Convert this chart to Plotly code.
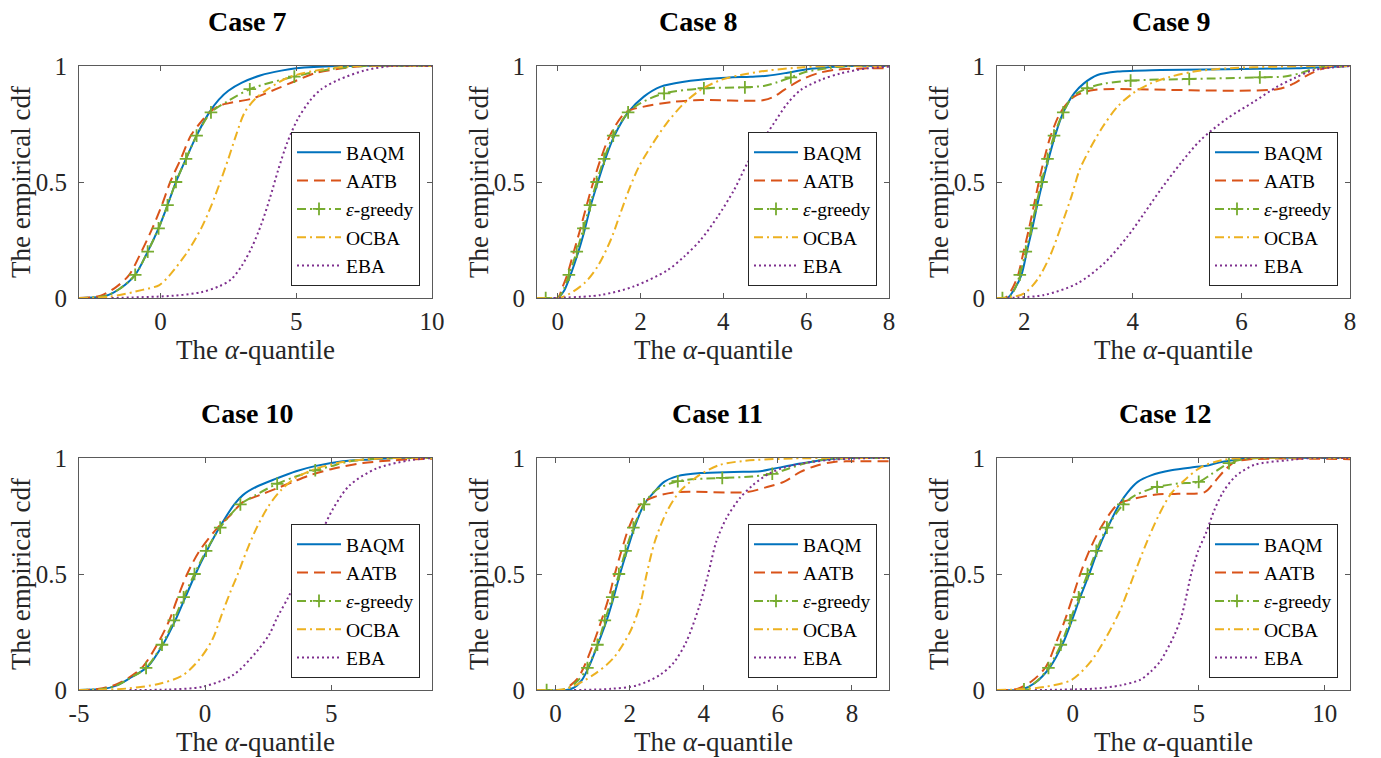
import plotly.graph_objects as go

W, H = 1381, 758

SERIES = ["BAQM", "AATB", "<i>ε</i>-greedy", "OCBA", "EBA"]
COLORS = ["#0072BD", "#D95319", "#77AC30", "#EDB120", "#7E2F8E"]
DASHES = ["solid", "11px,6px", "9px,4px,2px,4px", "9px,4px,2px,4px", "2px,3px"]
TITLES = ["Case 7", "Case 8", "Case 9", "Case 10", "Case 11", "Case 12"]
X_RANGES = [[-3, 10], [-0.5, 8], [1.5, 8], [-5, 9], [-0.5, 9], [-3, 11]]
X_TICKS = [[0, 5, 10], [0, 2, 4, 6, 8], [2, 4, 6, 8], [-5, 0, 5], [0, 2, 4, 6, 8], [0, 5, 10]]
Y_TICKS = [0, 0.5, 1]
Y_TICK_LABELS = ["0", "0.5", "1"]

# ---------------- Case 7 ----------------
c7_baqm_x = [-3, -2, -1.5, -0.93, -0.47, -0.07, 0.26, 0.57, 0.94, 1.33, 1.8, 2.15, 2.5, 3.0, 3.7, 4.45, 5.0, 6.5, 10]
c7_baqm_y = [0, 0.01, 0.04, 0.1, 0.2, 0.3, 0.4, 0.5, 0.6, 0.7, 0.8, 0.855, 0.893, 0.928, 0.96, 0.98, 0.99, 1, 1]
c7_aatb_x = [-3, -2.2, -1.6, -1.15, -0.7, -0.3, 0.05, 0.36, 0.75, 1.12, 1.5, 1.8, 2.2, 2.53, 3.39, 4.25, 4.86, 5.72, 6.7, 7.5, 10]
c7_aatb_y = [0, 0.01, 0.05, 0.1, 0.2, 0.3, 0.4, 0.5, 0.6, 0.7, 0.76, 0.8, 0.83, 0.84, 0.86, 0.9, 0.93, 0.97, 0.99, 1, 1]
c7_eps_x = [-3, -2, -1.5, -0.93, -0.47, -0.07, 0.26, 0.57, 0.94, 1.33, 1.86, 2.5, 3.29, 4.1, 4.93, 5.7, 6.5, 7.5, 10]
c7_eps_y = [0, 0.01, 0.04, 0.1, 0.2, 0.3, 0.4, 0.5, 0.6, 0.7, 0.8, 0.85, 0.9, 0.93, 0.954, 0.975, 0.99, 1, 1]
c7_eps_mx = [-0.93, -0.47, -0.07, 0.26, 0.57, 0.94, 1.33, 1.86, 3.29, 4.93]
c7_eps_my = [0.1, 0.2, 0.3, 0.4, 0.5, 0.6, 0.7, 0.8, 0.9, 0.954]
c7_ocba_x = [-3, -1.9, -0.66, -0.04, 0.35, 1.0, 1.5, 1.88, 2.2, 2.5, 2.78, 3.1, 3.5, 3.95, 4.7, 5.7, 7.07, 10]
c7_ocba_y = [0, 0.005, 0.035, 0.056, 0.1, 0.2, 0.3, 0.4, 0.5, 0.6, 0.7, 0.8, 0.86, 0.9, 0.95, 0.98, 1, 1]
c7_eba_x = [-1.8, 0.5, 1.5, 2.15, 2.6, 3.0, 3.37, 3.72, 4.03, 4.33, 4.67, 5.05, 5.5, 5.92, 6.55, 7.5, 8.5, 10]
c7_eba_y = [0, 0.01, 0.025, 0.05, 0.08, 0.14, 0.22, 0.32, 0.43, 0.55, 0.67, 0.77, 0.85, 0.9, 0.94, 0.98, 1, 1]

# ---------------- Case 8 ----------------
c8_baqm_x = [-0.5, 0.0, 0.15, 0.31, 0.5, 0.66, 0.8, 0.97, 1.15, 1.37, 1.7, 2.08, 2.49, 3.05, 3.86, 4.66, 5.06, 5.55, 6.03, 6.5, 7.0, 8]
c8_baqm_y = [0, 0, 0.03, 0.1, 0.2, 0.3, 0.4, 0.5, 0.6, 0.7, 0.8, 0.868, 0.911, 0.932, 0.947, 0.954, 0.958, 0.971, 0.986, 0.994, 1, 1]
c8_aatb_x = [-0.5, 0.0, 0.1, 0.23, 0.39, 0.55, 0.7, 0.86, 1.04, 1.26, 1.64, 2.08, 2.81, 3.45, 4.98, 5.22, 5.47, 5.87, 6.27, 6.67, 7.48, 8]
c8_aatb_y = [0, 0, 0.04, 0.1, 0.2, 0.3, 0.4, 0.5, 0.6, 0.7, 0.8, 0.825, 0.846, 0.853, 0.853, 0.868, 0.897, 0.94, 0.968, 0.983, 0.99, 0.99]
c8_eps_x = [-0.5, -0.29, 0.0, 0.15, 0.27, 0.46, 0.62, 0.78, 0.94, 1.12, 1.34, 1.7, 2.0, 2.57, 3.53, 4.52, 5.0, 5.3, 5.63, 6.0, 6.5, 7.0, 8]
c8_eps_y = [0, 0, 0.0, 0.04, 0.1, 0.2, 0.3, 0.4, 0.5, 0.6, 0.7, 0.8, 0.84, 0.882, 0.904, 0.908, 0.915, 0.93, 0.951, 0.975, 0.99, 1, 1]
c8_eps_mx = [-0.29, 0.27, 0.46, 0.62, 0.78, 0.94, 1.12, 1.34, 1.7, 2.57, 3.53, 4.52, 5.63]
c8_eps_my = [0, 0.1, 0.2, 0.3, 0.4, 0.5, 0.6, 0.7, 0.8, 0.882, 0.904, 0.908, 0.951]
c8_ocba_x = [-0.5, 0.0, 0.23, 0.64, 0.96, 1.28, 1.5, 1.72, 1.96, 2.3, 2.63, 3.05, 3.45, 3.94, 4.42, 5.06, 5.87, 6.67, 8]
c8_ocba_y = [0, 0, 0.013, 0.063, 0.135, 0.25, 0.358, 0.466, 0.566, 0.667, 0.753, 0.839, 0.897, 0.94, 0.961, 0.98, 0.994, 1, 1]
c8_eba_x = [-0.1, 1.04, 1.84, 2.65, 3.05, 3.45, 3.86, 4.26, 4.58, 4.9, 5.22, 5.55, 5.87, 6.35, 6.83, 7.48, 8]
c8_eba_y = [0, 0.013, 0.05, 0.12, 0.178, 0.25, 0.35, 0.466, 0.58, 0.667, 0.753, 0.839, 0.897, 0.94, 0.968, 0.99, 0.997]

# ---------------- Case 9 ----------------
c9_baqm_x = [1.5, 1.69, 1.8, 1.95, 2.05, 2.15, 2.24, 2.34, 2.45, 2.57, 2.72, 2.92, 3.1, 3.35, 3.72, 4.51, 7.0, 7.5, 8]
c9_baqm_y = [0, 0, 0.03, 0.1, 0.2, 0.3, 0.4, 0.5, 0.6, 0.7, 0.8, 0.882, 0.925, 0.961, 0.976, 0.983, 0.99, 0.995, 1]
c9_aatb_x = [1.5, 1.65, 1.78, 1.89, 1.99, 2.09, 2.18, 2.27, 2.37, 2.49, 2.67, 2.92, 3.22, 3.47, 6.66, 6.97, 7.22, 7.52, 8]
c9_aatb_y = [0, 0, 0.04, 0.1, 0.2, 0.3, 0.4, 0.5, 0.6, 0.7, 0.8, 0.868, 0.894, 0.9, 0.9, 0.925, 0.961, 0.99, 1]
c9_eps_x = [1.5, 1.6, 1.75, 1.83, 1.92, 2.03, 2.13, 2.22, 2.32, 2.43, 2.55, 2.72, 2.9, 3.16, 3.5, 3.96, 5.04, 6.34, 6.8, 7.1, 7.4, 8]
c9_eps_y = [0, 0, 0.01, 0.04, 0.1, 0.2, 0.3, 0.4, 0.5, 0.6, 0.7, 0.8, 0.87, 0.904, 0.925, 0.937, 0.944, 0.951, 0.955, 0.97, 0.993, 1]
c9_eps_mx = [1.6, 1.92, 2.03, 2.13, 2.22, 2.32, 2.43, 2.55, 2.72, 3.16, 3.96, 5.04, 6.34]
c9_eps_my = [0, 0.1, 0.2, 0.3, 0.4, 0.5, 0.6, 0.7, 0.8, 0.904, 0.937, 0.944, 0.951]
c9_ocba_x = [1.5, 1.69, 2.0, 2.24, 2.47, 2.7, 2.87, 3.02, 3.2, 3.45, 3.72, 4.0, 4.33, 4.7, 5.13, 5.74, 6.66, 7.4, 8]
c9_ocba_y = [0, 0, 0.02, 0.078, 0.178, 0.322, 0.437, 0.552, 0.638, 0.739, 0.825, 0.882, 0.925, 0.954, 0.976, 0.99, 0.997, 1, 1]
c9_eba_x = [1.69, 2.37, 2.98, 3.47, 3.9, 4.21, 4.51, 4.88, 5.25, 5.74, 6.23, 6.66, 6.97, 7.34, 8]
c9_eba_y = [0, 0.013, 0.063, 0.149, 0.264, 0.365, 0.466, 0.58, 0.681, 0.774, 0.846, 0.911, 0.947, 0.983, 1]

# ---------------- Case 10 ----------------
c10_baqm_x = [-5, -4, -3.5, -3, -2.28, -1.65, -1.18, -0.78, -0.38, 0.07, 0.57, 1.16, 1.5, 2.02, 2.82, 3.61, 4.4, 5.46, 6.52, 7.5, 9]
c10_baqm_y = [0, 0.005, 0.02, 0.05, 0.1, 0.2, 0.3, 0.4, 0.5, 0.6, 0.7, 0.8, 0.84, 0.875, 0.911, 0.943, 0.966, 0.986, 0.994, 1, 1]
c10_aatb_x = [-5, -4.2, -3.5, -3, -2.47, -1.88, -1.42, -1.08, -0.71, -0.22, 0.5, 0.97, 1.5, 2.16, 2.82, 3.48, 4.14, 5.07, 6.26, 7.45, 9]
c10_aatb_y = [0, 0.005, 0.025, 0.055, 0.1, 0.2, 0.3, 0.4, 0.5, 0.6, 0.7, 0.75, 0.81, 0.84, 0.868, 0.897, 0.925, 0.954, 0.978, 0.99, 0.997]
c10_eps_x = [-5, -4, -3.5, -3, -2.34, -1.71, -1.24, -0.85, -0.42, 0.04, 0.6, 1.4, 2.0, 2.86, 3.6, 4.37, 5.0, 5.7, 6.5, 7.5, 9]
c10_eps_y = [0, 0.005, 0.02, 0.05, 0.095, 0.195, 0.3, 0.4, 0.5, 0.6, 0.7, 0.8, 0.84, 0.889, 0.92, 0.947, 0.965, 0.985, 0.995, 1, 1]
c10_eps_mx = [-2.34, -1.71, -1.24, -0.85, -0.42, 0.04, 0.6, 1.4, 2.86, 4.37]
c10_eps_my = [0.095, 0.195, 0.3, 0.4, 0.5, 0.6, 0.7, 0.8, 0.889, 0.947]
c10_ocba_x = [-5, -3.13, -1.81, -0.89, -0.2, 0.3, 0.65, 1.0, 1.3, 1.65, 2.05, 2.5, 3.0, 3.6, 4.4, 5.46, 6.79, 7.5, 9]
c10_ocba_y = [0, 0.006, 0.027, 0.063, 0.135, 0.22, 0.322, 0.422, 0.5, 0.6, 0.7, 0.79, 0.86, 0.915, 0.954, 0.983, 0.997, 1, 1]
c10_eba_x = [-3, -1.5, -0.1, 1.12, 2.04, 2.55, 2.85, 3.3, 3.75, 4.15, 4.56, 5.07, 5.73, 6.79, 8.1, 9]
c10_eba_y = [0, 0.002, 0.014, 0.065, 0.165, 0.24, 0.31, 0.4, 0.5, 0.585, 0.668, 0.78, 0.882, 0.954, 0.99, 1]

# ---------------- Case 11 ----------------
c11_baqm_x = [-0.5, 0.3, 0.5, 0.7, 0.9, 1.15, 1.38, 1.57, 1.74, 1.93, 2.13, 2.39, 2.66, 2.93, 3.29, 3.92, 4.81, 5.53, 5.89, 6.61, 7.33, 8, 9]
c11_baqm_y = [0, 0, 0.01, 0.04, 0.1, 0.2, 0.3, 0.4, 0.5, 0.6, 0.7, 0.8, 0.853, 0.897, 0.922, 0.935, 0.94, 0.943, 0.954, 0.976, 0.994, 1, 1]
c11_aatb_x = [-0.5, 0.2, 0.4, 0.6, 0.77, 1.02, 1.24, 1.44, 1.6, 1.78, 1.98, 2.3, 2.66, 3.29, 5.17, 5.71, 6.16, 6.61, 7.06, 7.51, 8.05, 9]
c11_aatb_y = [0, 0, 0.02, 0.05, 0.1, 0.2, 0.3, 0.4, 0.5, 0.6, 0.7, 0.8, 0.832, 0.853, 0.853, 0.875, 0.897, 0.94, 0.968, 0.983, 0.986, 0.986]
c11_eps_x = [-0.5, -0.24, 0.3, 0.6, 0.86, 1.13, 1.33, 1.53, 1.71, 1.89, 2.1, 2.39, 2.7, 3.3, 4.5, 5.3, 5.85, 6.3, 6.8, 7.3, 8, 9]
c11_eps_y = [0, 0, 0.005, 0.04, 0.095, 0.195, 0.3, 0.4, 0.5, 0.6, 0.7, 0.8, 0.86, 0.9, 0.914, 0.92, 0.932, 0.955, 0.98, 0.995, 1, 1]
c11_eps_mx = [-0.24, 0.86, 1.13, 1.33, 1.53, 1.71, 1.89, 2.1, 2.39, 3.3, 4.5, 5.85]
c11_eps_my = [0, 0.095, 0.195, 0.3, 0.4, 0.5, 0.6, 0.7, 0.8, 0.9, 0.914, 0.932]
c11_ocba_x = [-0.5, 0.3, 1.02, 1.56, 2.01, 2.28, 2.46, 2.68, 3.0, 3.35, 3.89, 4.43, 5.06, 6.4, 9]
c11_ocba_y = [0, 0.005, 0.065, 0.137, 0.25, 0.366, 0.5, 0.64, 0.768, 0.855, 0.927, 0.97, 0.987, 0.998, 1]
c11_eba_x = [0.5, 1.5, 2.2, 2.82, 3.2, 3.53, 3.89, 4.12, 4.34, 4.61, 4.97, 5.33, 5.78, 6.2, 6.8, 7.5, 8.5, 9]
c11_eba_y = [0, 0.005, 0.02, 0.065, 0.12, 0.208, 0.366, 0.5, 0.64, 0.74, 0.826, 0.884, 0.934, 0.96, 0.98, 0.993, 1, 1]

# ---------------- Case 12 ----------------
c12_baqm_x = [-3, -2, -1.5, -0.89, -0.39, -0.03, 0.3, 0.66, 0.99, 1.39, 1.85, 2.19, 2.58, 3.11, 3.91, 4.84, 5.37, 5.9, 6.56, 7.2, 11]
c12_baqm_y = [0, 0.003, 0.03, 0.1, 0.2, 0.3, 0.4, 0.5, 0.6, 0.7, 0.8, 0.853, 0.897, 0.925, 0.947, 0.961, 0.968, 0.983, 0.994, 1, 1]
c12_aatb_x = [-3, -2.2, -1.6, -1.06, -0.67, -0.31, 0.0, 0.3, 0.66, 1.12, 1.79, 2.45, 3.25, 4.18, 5.24, 5.63, 6.03, 6.43, 6.96, 11]
c12_aatb_y = [0, 0.005, 0.04, 0.1, 0.2, 0.3, 0.4, 0.5, 0.6, 0.7, 0.8, 0.825, 0.842, 0.846, 0.853, 0.897, 0.947, 0.983, 0.994, 0.995]
c12_eps_x = [-3, -1.93, -1.4, -0.96, -0.47, -0.1, 0.24, 0.59, 0.94, 1.36, 2.01, 2.5, 3.35, 4.2, 5.0, 5.5, 6.2, 6.8, 7.5, 11]
c12_eps_y = [0, 0.003, 0.04, 0.095, 0.195, 0.3, 0.4, 0.5, 0.6, 0.7, 0.8, 0.84, 0.875, 0.89, 0.897, 0.93, 0.978, 0.995, 1, 1]
c12_eps_mx = [-1.93, -0.96, -0.47, -0.1, 0.24, 0.59, 0.94, 1.36, 2.01, 3.35, 5.0, 6.2]
c12_eps_my = [0.003, 0.095, 0.195, 0.3, 0.4, 0.5, 0.6, 0.7, 0.8, 0.875, 0.897, 0.978]
c12_ocba_x = [-3, -2.06, -1.13, -0.07, 0.7, 1.3, 1.85, 2.2, 2.55, 2.95, 3.4, 3.9, 4.5, 5.1, 5.9, 6.8, 11]
c12_ocba_y = [0, 0.003, 0.013, 0.042, 0.12, 0.221, 0.336, 0.43, 0.53, 0.64, 0.75, 0.846, 0.911, 0.961, 0.99, 1, 1]
c12_eba_x = [-1.5, 0.86, 1.9, 2.7, 3.1, 3.45, 3.7, 4.05, 4.3, 4.5, 4.7, 4.98, 5.3, 5.6, 5.95, 6.45, 7.2, 8.5, 9.5, 11]
c12_eba_y = [0, 0.006, 0.02, 0.045, 0.08, 0.12, 0.165, 0.24, 0.31, 0.4, 0.5, 0.6, 0.68, 0.77, 0.85, 0.92, 0.97, 0.99, 1, 1]

CASES = [
    ([(c7_baqm_x, c7_baqm_y), (c7_aatb_x, c7_aatb_y), (c7_eps_x, c7_eps_y), (c7_ocba_x, c7_ocba_y), (c7_eba_x, c7_eba_y)], (c7_eps_mx, c7_eps_my)),
    ([(c8_baqm_x, c8_baqm_y), (c8_aatb_x, c8_aatb_y), (c8_eps_x, c8_eps_y), (c8_ocba_x, c8_ocba_y), (c8_eba_x, c8_eba_y)], (c8_eps_mx, c8_eps_my)),
    ([(c9_baqm_x, c9_baqm_y), (c9_aatb_x, c9_aatb_y), (c9_eps_x, c9_eps_y), (c9_ocba_x, c9_ocba_y), (c9_eba_x, c9_eba_y)], (c9_eps_mx, c9_eps_my)),
    ([(c10_baqm_x, c10_baqm_y), (c10_aatb_x, c10_aatb_y), (c10_eps_x, c10_eps_y), (c10_ocba_x, c10_ocba_y), (c10_eba_x, c10_eba_y)], (c10_eps_mx, c10_eps_my)),
    ([(c11_baqm_x, c11_baqm_y), (c11_aatb_x, c11_aatb_y), (c11_eps_x, c11_eps_y), (c11_ocba_x, c11_ocba_y), (c11_eba_x, c11_eba_y)], (c11_eps_mx, c11_eps_my)),
    ([(c12_baqm_x, c12_baqm_y), (c12_aatb_x, c12_aatb_y), (c12_eps_x, c12_eps_y), (c12_ocba_x, c12_ocba_y), (c12_eba_x, c12_eba_y)], (c12_eps_mx, c12_eps_my)),
]

# ---------------- layout geometry (pixels) ----------------
COL_X = [(79, 432), (537, 889), (997, 1350)]
ROW_Y = [(66, 298), (458, 690)]
TITLE_CX = [247, 698, 1171, 247, 718, 1165]

FONT = "Liberation Serif, Times New Roman, serif"
AXC = "#5a5a5a"


def fx(p):
    return p / W


def fy(p):
    return 1 - p / H


fig = go.Figure()
layout = dict(
    template="none",
    width=W, height=H, autosize=False,
    margin=dict(l=0, r=0, t=0, b=0, pad=0, autoexpand=False),
    paper_bgcolor="white", plot_bgcolor="white",
    font=dict(family=FONT, color="#262626"),
    annotations=[],
)

for i, (curves, marks) in enumerate(CASES):
    r, c = divmod(i, 3)
    x0, x1 = COL_X[c]
    y0, y1 = ROW_Y[r]
    sfx = "" if i == 0 else str(i + 1)
    xa, ya = "x" + sfx, "y" + sfx
    lg = "legend" + sfx

    layout["xaxis" + sfx] = dict(
        domain=[fx(x0), fx(x1)], anchor=ya, range=X_RANGES[i], automargin=False,
        tickvals=X_TICKS[i], ticktext=[str(v) for v in X_TICKS[i]],
        showline=True, mirror="ticks", linecolor=AXC, linewidth=1,
        ticks="inside", ticklen=5, tickcolor=AXC, tickwidth=1,
        showgrid=False, zeroline=False, ticklabelstandoff=1,
        tickfont=dict(family=FONT, size=25, color="#262626"),
    )
    layout["yaxis" + sfx] = dict(
        domain=[fy(y1), fy(y0)], anchor=xa, range=[0, 1], automargin=False,
        tickvals=Y_TICKS, ticktext=Y_TICK_LABELS,
        showline=True, mirror="ticks", linecolor=AXC, linewidth=1,
        ticks="inside", ticklen=5, tickcolor=AXC, tickwidth=1,
        showgrid=False, zeroline=False, ticklabelstandoff=6,
        tickfont=dict(family=FONT, size=25, color="#262626"),
    )
    layout[lg] = dict(
        x=fx(x1 - 12), y=fy(y1 - 12), xanchor="right", yanchor="bottom",
        xref="paper", yref="paper",
        bgcolor="white", bordercolor="#262626", borderwidth=1,
        font=dict(family=FONT, size=19.5, color="#000000"),
        tracegroupgap=0, itemwidth=44,
    )

    for k, (xs, ys) in enumerate(curves):
        fig.add_trace(go.Scatter(
            x=xs, y=ys, xaxis=xa, yaxis=ya, mode="lines",
            line=dict(color=COLORS[k], width=2, dash=DASHES[k], shape="spline", smoothing=0.85),
            name=SERIES[k], legend=lg, showlegend=(k != 2), legendrank=k + 1,
        ))
        if k == 2:
            fig.add_trace(go.Scatter(
                x=marks[0], y=marks[1], xaxis=xa, yaxis=ya, mode="markers",
                marker=dict(symbol="cross-thin", size=9, color=COLORS[2],
                            line=dict(color=COLORS[2], width=1.8)),
                showlegend=False, legend=lg,
            ))
            fig.add_trace(go.Scatter(
                x=[None], y=[None], xaxis=xa, yaxis=ya, mode="lines+markers",
                line=dict(color=COLORS[2], width=2, dash=DASHES[2]),
                marker=dict(symbol="cross-thin", size=9, color=COLORS[2],
                            line=dict(color=COLORS[2], width=1.8)),
                name=SERIES[2], legend=lg, showlegend=True, legendrank=3,
            ))

    cx = (x0 + x1) / 2
    cy = (y0 + y1) / 2
    layout["annotations"].append(dict(
        text="<b>" + TITLES[i] + "</b>", x=fx(TITLE_CX[i]), y=fy(y0 - 45),
        xref="paper", yref="paper", xanchor="center", yanchor="middle",
        showarrow=False, font=dict(family=FONT, size=28, color="#000000"),
    ))
    layout["annotations"].append(dict(
        text="The <i>α</i>-quantile", x=fx(cx), y=fy(y1 + 52),
        xref="paper", yref="paper", xanchor="center", yanchor="middle",
        showarrow=False, font=dict(family=FONT, size=27, color="#262626"),
    ))
    layout["annotations"].append(dict(
        text="The empirical cdf", x=fx(x0 - 58), y=fy(cy),
        xref="paper", yref="paper", xanchor="center", yanchor="middle",
        textangle=-90, showarrow=False, font=dict(family=FONT, size=27, color="#262626"),
    ))

fig.update_layout(**layout)
fig.write_html(
    "out.html",
    config={"responsive": False, "displayModeBar": False},
    post_script="document.body.style.margin='0px';document.body.style.overflow='hidden';",
)
